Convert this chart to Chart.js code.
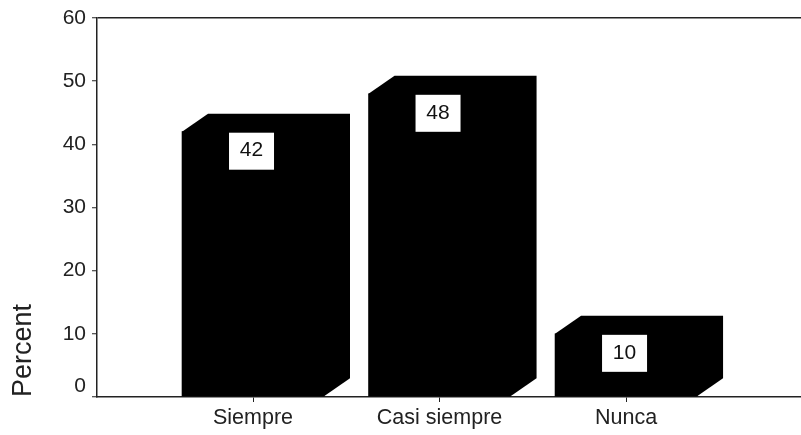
<!DOCTYPE html>
<html>
<head>
<meta charset="utf-8">
<title>Percent</title>
<script src="https://cdn.jsdelivr.net/npm/chart.js@4/dist/chart.umd.min.js"></script>
<style>
    html, body { margin: 0; padding: 0; background: #fff; }
    #percentWrap { width: 801px; height: 435px; }
    canvas { display: block; }
</style>
</head>
<body>
<div id="percentWrap"><canvas id="percentChart" width="801" height="435"></canvas></div>
<script>
const categories = ["Siempre", "Casi siempre", "Nunca"]
const percentValues = [42, 48, 10]
const yTicks = [0, 10, 20, 30, 40, 50, 60]

const FONT = '"Liberation Sans", Arial, sans-serif'
const INK = "#222222"
// offset of the back face of each block
const DEPTH_X = 26
const DEPTH_Y = 18

// extruded top and right side, drawn behind the front face of each bar
const blockDepth = {
    id: 'blockDepth',
    beforeDatasetsDraw(chart) {
        const { ctx } = chart
        ctx.save()
        ctx.fillStyle = "#000000"
        chart.getDatasetMeta(0).data.forEach(bar => {
            const left = bar.x - bar.width / 2
            const right = bar.x + bar.width / 2
            ctx.beginPath()
            ctx.moveTo(left, bar.y)
            ctx.lineTo(left + DEPTH_X, bar.y - DEPTH_Y)
            ctx.lineTo(right + DEPTH_X, bar.y - DEPTH_Y)
            ctx.lineTo(right + DEPTH_X, bar.base - DEPTH_Y)
            ctx.lineTo(right, bar.base)
            ctx.closePath()
            ctx.fill()
        })
        ctx.restore()
    }
}

// white value box near the top of each front face
const valueBoxes = {
    id: 'valueBoxes',
    afterDatasetsDraw(chart) {
        const { ctx } = chart
        ctx.save()
        ctx.font = "21px " + FONT
        ctx.textAlign = 'center'
        ctx.textBaseline = 'middle'
        chart.getDatasetMeta(0).data.forEach((bar, i) => {
            const top = bar.y + 1
            ctx.fillStyle = "#ffffff"
            ctx.fillRect(bar.x - 24, top, 45, 37)
            ctx.fillStyle = "#111111"
            ctx.fillText(String(percentValues[i]), bar.x - 1.5, top + 18)
        })
        ctx.restore()
    }
}

const config = {
    type: "bar",
    data: {
        datasets: [
            {
                label: "Percent",
                data: categories.map((c, i) => ({ x: i + 1, y: percentValues[i] })),
                backgroundColor: "#000000",
                borderWidth: 0,
                barThickness: 142,
            },
        ],
    },
    options: {
        responsive: false,
        animation: false,
        layout: { autoPadding: false, padding: { top: 18, left: 0, right: 0, bottom: 0 } },
        plugins: {
            legend: { display: false },
            tooltip: { enabled: false },
        },
        scales: {
            x: {
                type: "linear",
                offset: false,
                min: 0.1635,
                max: 3.938,
                afterBuildTicks(axis) {
                    axis.ticks = categories.map((c, i) => ({ value: i + 1 }))
                },
                afterFit(axis) { axis.height = 38 },
                grid: { offset: false, drawOnChartArea: false, tickLength: 5, tickColor: INK, tickWidth: 1 },
                border: { color: INK, width: 1.5 },
                ticks: {
                    autoSkip: false,
                    maxRotation: 0,
                    padding: 3,
                    color: INK,
                    font: { family: FONT, size: 21.5 },
                    callback: value => categories[value - 1],
                },
            },
            y: {
                min: 0,
                max: 60,
                afterBuildTicks(axis) {
                    axis.ticks = yTicks.map(value => ({ value }))
                },
                afterFit(axis) { axis.width = 97 },
                title: {
                    display: true,
                    text: "Percent",
                    align: "start",
                    color: INK,
                    padding: { top: 7, bottom: 0 },
                    font: { family: FONT, size: 27 },
                },
                // only the 60 line is drawn across, it closes the top of the plot
                grid: {
                    tickLength: 5,
                    tickColor: INK,
                    tickWidth: 1,
                    lineWidth: 1.5,
                    color: c => (c.tick && c.tick.value === 60 ? INK : "rgba(0,0,0,0)"),
                },
                border: { color: INK, width: 1.5 },
                ticks: {
                    padding: 6,
                    color: INK,
                    font: { family: FONT, size: 21, lineHeight: 1.05 },
                    // the empty second line lifts the 0 clear of the baseline
                    callback: value => (value === 0 ? ["0", ""] : String(value)),
                },
            },
        },
    },
    plugins: [blockDepth, valueBoxes],
}

new Chart(document.getElementById("percentChart"), config)
</script>
</body>
</html>
